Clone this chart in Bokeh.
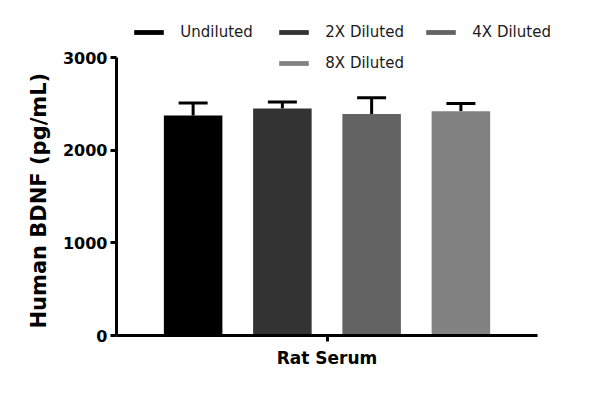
from bokeh.plotting import figure
from bokeh.models import ColumnDataSource, Range1d, Legend, LegendItem, Whisker, TeeHead, FixedTicker, Title
from bokeh.embed import file_html
from bokeh.resources import INLINE

# ---- data ----
group = "Rat Serum"
series = ["Undiluted", "2X Diluted", "4X Diluted", "8X Diluted"]
means = [2375, 2450, 2390, 2420]
sds = [135, 70, 175, 85]
colors = ["#000000", "#333333", "#636363", "#828282"]
y_ticks = [0, 1000, 2000, 3000]
y_label = "Human BDNF (pg/mL)"

# ---- layout (bar slots within the single group, group centred at 0) ----
offsets = [-0.318, -0.106, 0.106, 0.318]
bar_width = 0.139

FONT = "DejaVu Sans"

p = figure(width=584, height=378, x_range=Range1d(-0.5, 0.6116),
           y_range=Range1d(0, 3475), output_backend="svg", toolbar_location=None,
           min_border_left=116, min_border_right=0, min_border_top=13, min_border_bottom=43)
p.outline_line_color = None
p.grid.visible = False
p.background_fill_color = "white"

renderers = []
for name, m, s, c, off in zip(series, means, sds, colors, offsets):
    src = ColumnDataSource(dict(x=[off], top=[m], upper=[m + s]))
    r = p.vbar(x="x", top="top", width=bar_width, bottom=0,
               source=src, fill_color=c, line_color=None)
    renderers.append(r)
    w = Whisker(base="x", upper="upper", lower="top", source=src,
                dimension="height", line_width=3, line_color="black",
                upper_head=TeeHead(size=29, line_width=3, line_color="black"),
                lower_head=None)
    p.add_layout(w)

# axes
for ax in (p.xaxis[0], p.yaxis[0]):
    ax.axis_line_width = 3
    ax.axis_line_color = "black"
    ax.major_tick_line_width = 3
    ax.major_tick_line_color = "black"
    ax.major_tick_out = 6
    ax.major_tick_in = 0
    ax.minor_tick_line_color = None
    ax.major_label_text_font = FONT
    ax.major_label_text_font_style = "bold"
    ax.major_label_text_color = "black"

p.yaxis.ticker = FixedTicker(ticks=y_ticks)
p.yaxis.bounds = (0, 3000)
p.yaxis.major_label_text_font_size = "16px"
p.yaxis.major_label_standoff = 3

# y label as a title in the left panel, starting just above the frame bottom
ytitle = Title(text=y_label, align="left", offset=7, standoff=18,
               text_font=FONT, text_font_style="bold", text_font_size="21px",
               text_color="black")
p.add_layout(ytitle, "left")

p.xaxis.ticker = FixedTicker(ticks=[0])
p.xaxis.major_label_overrides = {0: group}
p.xaxis.bounds = (-0.5, 0.5)
p.xaxis.major_label_text_font_size = "17px"
p.xaxis.major_label_standoff = 6

# legends: one per item, placed to mimic the centered 3+1 layout
positions = [(14.3, 293.6), (159.3, 293.6), (306.3, 293.6), (159.3, 262.6)]
for name, r, pos in zip(series, renderers, positions):
    lg = Legend(items=[LegendItem(label=name, renderers=[r])], location=pos,
                orientation="horizontal", glyph_width=37, glyph_height=6,
                label_standoff=13, padding=0, margin=0, spacing=0,
                border_line_color=None, background_fill_alpha=0,
                label_text_font=FONT, label_text_font_size="15px",
                label_text_color="#1a1a1a")
    p.add_layout(lg, "center")

open("out.html", "w").write(file_html(p, INLINE))
